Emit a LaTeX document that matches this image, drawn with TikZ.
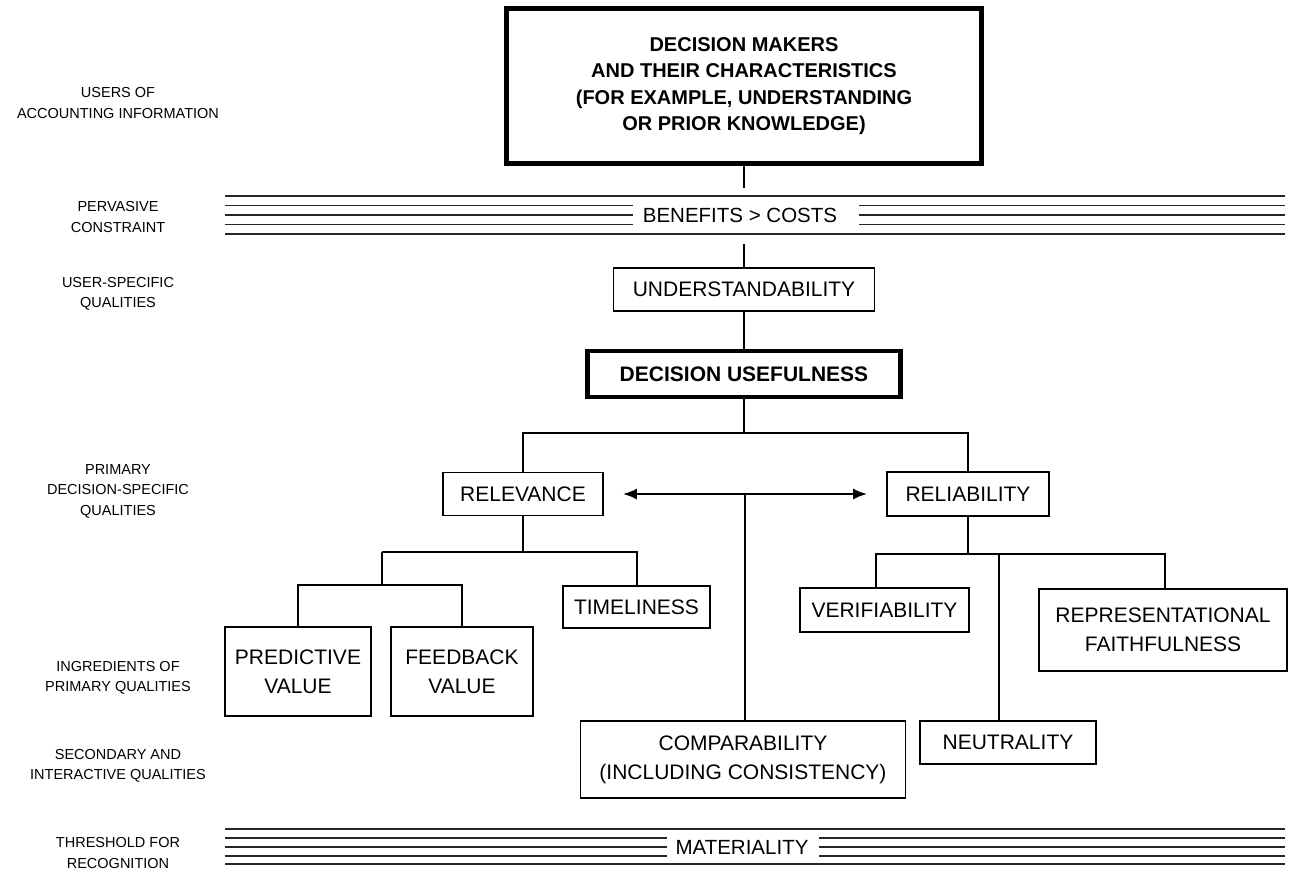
\documentclass[tikz,border=0pt]{standalone}
\usepackage{fontspec}
\setmainfont{Liberation Sans}
\usetikzlibrary{arrows.meta}
\begin{document}
\begin{tikzpicture}[x=1pt,y=-1pt,
  box/.style={draw, line width=1.8pt, inner sep=0pt, align=center,
    font=\fontsize{21}{29}\selectfont},
  thickbox/.style={box, line width=4.5pt, font=\fontsize{21}{29}\selectfont\bfseries},
  lab/.style={align=center, inner sep=0pt, font=\fontsize{14.5}{20.5}\selectfont},
  conn/.style={line width=2pt},
  barline/.style={line width=1.6pt, gray!30!black},
  bartext/.style={inner sep=0pt, font=\fontsize{20.5}{24}\selectfont}]
\useasboundingbox (0,0) rectangle (1291,873);

% left-hand labels
\node[lab] (l1) at (118,103) {USERS OF\\ACCOUNTING INFORMATION};
\node[lab] (l2) at (118,217) {PERVASIVE\\CONSTRAINT};
\node[lab] (l3) at (118,294) {USER-SPECIFIC\\QUALITIES};
\node[lab] (l4) at (118,491) {PRIMARY\\DECISION-SPECIFIC\\QUALITIES};
\node[lab] (l5) at (118,678) {INGREDIENTS OF\\PRIMARY QUALITIES};
\node[lab] (l6) at (118,766) {SECONDARY AND\\INTERACTIVE QUALITIES};
\node[lab] (l7) at (118,853) {THRESHOLD FOR\\RECOGNITION};

% bar: benefits > costs
\draw[barline] (225,196) -- (1285,196);
\draw[barline] (225,234) -- (1285,234);
\foreach \y in {205.5,215,224.5}{
  \draw[barline] (225,\y) -- (633,\y);
  \draw[barline] (859,\y) -- (1285,\y);
}
\node[bartext] (bc) at (740,215) {BENEFITS > COSTS};

% bar: materiality
\draw[barline] (225,829) -- (1285,829);
\draw[barline] (225,864) -- (1285,864);
\foreach \y in {838,847,856}{
  \draw[barline] (225,\y) -- (667,\y);
  \draw[barline] (819,\y) -- (1285,\y);
}
\node[bartext] (mat) at (742,847) {MATERIALITY};

% boxes
\node[thickbox, minimum width=475pt, minimum height=155pt, font=\fontsize{20}{26.5}\selectfont\bfseries] (top) at (744,86)
  {DECISION MAKERS\\AND THEIR CHARACTERISTICS\\(FOR EXAMPLE, UNDERSTANDING\\OR PRIOR KNOWLEDGE)};
\node[box, minimum width=261pt, minimum height=43pt] (und) at (744,289.5) {UNDERSTANDABILITY};
\node[thickbox, minimum width=313pt, minimum height=46pt] (use) at (744,374) {DECISION USEFULNESS};
\node[box, minimum width=160pt, minimum height=43pt] (rel) at (523,494) {RELEVANCE};
\node[box, minimum width=162pt, minimum height=44pt] (rely) at (968,494) {RELIABILITY};
\node[box, minimum width=147pt, minimum height=42pt] (time) at (636.5,607) {TIMELINESS};
\node[box, minimum width=146pt, minimum height=89pt] (pred) at (298,671.5) {PREDICTIVE\\VALUE};
\node[box, minimum width=142pt, minimum height=89pt] (feed) at (462,671.5) {FEEDBACK\\VALUE};
\node[box, minimum width=169pt, minimum height=44pt] (ver) at (884.5,610) {VERIFIABILITY};
\node[box, minimum width=248pt, minimum height=82pt] (rep) at (1163,630) {REPRESENTATIONAL\\FAITHFULNESS};
\node[box, minimum width=325pt, minimum height=77pt] (comp) at (743,759.5) {COMPARABILITY\\(INCLUDING CONSISTENCY)};
\node[box, minimum width=176pt, minimum height=43pt] (neut) at (1008,742.5) {NEUTRALITY};

% junction coordinates
\coordinate (tb1) at (744,188);
\coordinate (tb2) at (744,244);
\coordinate (j0) at (744,433);
\coordinate (amid) at (745,494);
\coordinate (jr) at (523,552);
\coordinate (jpv) at (382,552);
\coordinate (jpv2) at (382,585);
\coordinate (jl) at (968,554);
\coordinate (jv) at (876,554);
\coordinate (jn) at (999,554);
\coordinate (jf) at (1165,554);

% connectors
\draw[conn] (top.south) -- (tb1);
\draw[conn] (tb2) -- (und.north);
\draw[conn] (und.south) -- (use.north);
\draw[conn] (use.south) -- (j0);
\draw[conn] (rel.north) -- (rel.north |- j0) -- (rely.north |- j0) -- (rely.north);
\draw[conn, {Latex[length=14pt,width=11pt]}-{Latex[length=14pt,width=11pt]}, shorten <=19pt, shorten >=19pt] (rel.east) -- (rely.west);
\draw[conn] (amid) -- (amid |- comp.north);

\draw[conn] (rel.south) -- (jr);
\draw[conn] (jpv) -- (time.north |- jr) -- (time.north);
\draw[conn] (jpv) -- (jpv2);
\draw[conn] (pred.north) -- (pred.north |- jpv2) -- (feed.north |- jpv2) -- (feed.north);

\draw[conn] (rely.south) -- (jl);
\draw[conn] (jv |- ver.north) -- (jv) -- (jf) -- (jf |- rep.north);
\draw[conn] (jn) -- (jn |- neut.north);
\end{tikzpicture}
\end{document}
